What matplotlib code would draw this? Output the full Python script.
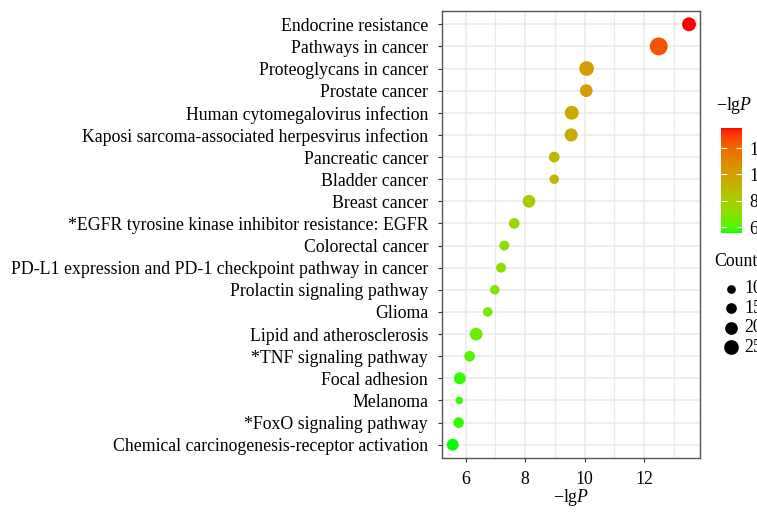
import numpy as np
import matplotlib
matplotlib.use("Agg")
import matplotlib.pyplot as plt
from matplotlib.colors import ListedColormap, Normalize
from matplotlib.ticker import MultipleLocator

plt.rcParams['font.family'] = ['Liberation Serif', 'DejaVu Serif']
plt.rcParams['mathtext.fontset'] = 'custom'
plt.rcParams['mathtext.rm'] = 'Liberation Serif'
plt.rcParams['mathtext.it'] = 'Liberation Serif:italic'

# pathways, top to bottom
pathways = [
    "Endocrine resistance",
    "Pathways in cancer",
    "Proteoglycans in cancer",
    "Prostate cancer",
    "Human cytomegalovirus infection",
    "Kaposi sarcoma-associated herpesvirus infection",
    "Pancreatic cancer",
    "Bladder cancer",
    "Breast cancer",
    "*EGFR tyrosine kinase inhibitor resistance: EGFR",
    "Colorectal cancer",
    "PD-L1 expression and PD-1 checkpoint pathway in cancer",
    "Prolactin signaling pathway",
    "Glioma",
    "Lipid and atherosclerosis",
    "*TNF signaling pathway",
    "Focal adhesion",
    "Melanoma",
    "*FoxO signaling pathway",
    "Chemical carcinogenesis-receptor activation",
]
neg_lgp = [13.52, 12.50, 10.07, 10.06, 9.57, 9.55, 8.98, 8.98, 8.13, 7.63,
           7.30, 7.19, 6.98, 6.74, 6.35, 6.13, 5.80, 5.78, 5.76, 5.56]
counts = [23, 33, 25, 20, 23, 21, 15, 12, 20, 15,
          13, 13, 12, 12, 20, 15, 18, 7, 15, 18]
legend_counts = [10, 15, 20, 25]
cbar_ticks = [6, 8, 10, 12]

DPI = 100


def size_of(c):
    # diameter in px -> marker area in pt^2
    d = 4.7 + 0.4 * np.asarray(c, dtype=float)
    return (d * 72.0 / DPI) ** 2


# green -> red gradient interpolated in Lab space (like ggplot)
def srgb_to_lab(rgb):
    rgb = np.asarray(rgb, dtype=float)
    lin = np.where(rgb <= 0.04045, rgb / 12.92, ((rgb + 0.055) / 1.055) ** 2.4)
    M = np.array([[0.4124, 0.3576, 0.1805],
                  [0.2126, 0.7152, 0.0722],
                  [0.0193, 0.1192, 0.9505]])
    xyz = M @ lin / np.array([0.95047, 1.0, 1.08883])
    f = np.where(xyz > 0.008856, np.cbrt(xyz), 7.787 * xyz + 16 / 116)
    return np.array([116 * f[1] - 16, 500 * (f[0] - f[1]), 200 * (f[1] - f[2])])


def lab_to_srgb(lab):
    L, a, b = lab
    fy = (L + 16) / 116
    fx = fy + a / 500
    fz = fy - b / 200
    f = np.array([fx, fy, fz])
    xyz = np.where(f ** 3 > 0.008856, f ** 3, (f - 16 / 116) / 7.787)
    xyz = xyz * np.array([0.95047, 1.0, 1.08883])
    Minv = np.array([[3.2406, -1.5372, -0.4986],
                     [-0.9689, 1.8758, 0.0415],
                     [0.0557, -0.2040, 1.0570]])
    lin = np.clip(Minv @ xyz, 0, 1)
    rgb = np.where(lin <= 0.0031308, 12.92 * lin, 1.055 * lin ** (1 / 2.4) - 0.055)
    return np.clip(rgb, 0, 1)


lo = srgb_to_lab([0, 1, 0])
hi = srgb_to_lab([1, 0, 0])
cmap = ListedColormap([lab_to_srgb(lo + (hi - lo) * t) for t in np.linspace(0, 1, 256)])
norm = Normalize(vmin=min(neg_lgp), vmax=max(neg_lgp))

fig = plt.figure(figsize=(757 / DPI, 513 / DPI), dpi=DPI)
W, H = 757, 513
ax = fig.add_axes([442 / W, 1 - 458 / H, (700 - 442) / W, (458 - 11) / H])

n = len(pathways)
ypos = np.arange(n)[::-1]
ax.scatter(neg_lgp, ypos, s=size_of(counts), c=neg_lgp, cmap=cmap, norm=norm,
           linewidths=0, zorder=3)

ax.set_xlim(5.2, 13.89)
ax.set_ylim(-0.6, n - 0.4)
ax.xaxis.set_major_locator(MultipleLocator(2))
ax.xaxis.set_minor_locator(MultipleLocator(1))
ax.set_yticks(ypos)
ax.set_yticklabels(pathways)
ax.grid(True, which='major', color='#ebebeb', linewidth=1.1, zorder=0)
ax.grid(True, which='minor', axis='x', color='#ebebeb', linewidth=0.9, zorder=0)
ax.set_axisbelow(True)
ax.tick_params(axis='both', which='major', labelsize=12.8, color='#333333',
               length=3, width=0.8, labelcolor='black')
ax.tick_params(axis='y', pad=7)
ax.tick_params(axis='x', pad=6)
ax.tick_params(axis='x', which='minor', length=0)
for s in ax.spines.values():
    s.set_color('#555555')
    s.set_linewidth(1.0)
ax.set_xlabel(r'$-\mathrm{lg}P$', fontsize=12.8, labelpad=0)

# colour bar
cax = fig.add_axes([720.7 / W, 1 - 233 / H, 21 / W, 105 / H])
sm = plt.cm.ScalarMappable(norm=norm, cmap=cmap)
cb = fig.colorbar(sm, cax=cax, ticks=cbar_ticks)
cb.outline.set_visible(False)
cax.tick_params(direction='in', color='white', length=4, width=0.8,
                left=True, right=True, labelsize=12.8, pad=5.5)
fig.text(716 / W, 1 - 105 / H, r'$-\mathrm{lg}P$', fontsize=12.8, va='center', ha='left')

# size legend
fig.text(714 / W, 1 - 262 / H, 'Count', fontsize=12.8, va='center', ha='left')
handles = [ax.scatter([], [], s=size_of(c), color='black', linewidths=0) for c in legend_counts]
leg = fig.legend(handles, [str(c) for c in legend_counts],
                 loc='upper left', bbox_to_anchor=(699 / W, 1 - 266 / H),
                 frameon=False, fontsize=12.8,
                 handletextpad=-0.23, labelspacing=0.14, borderpad=0.3,
                 handlelength=2.0)

fig.savefig('out.png', dpi=DPI)
